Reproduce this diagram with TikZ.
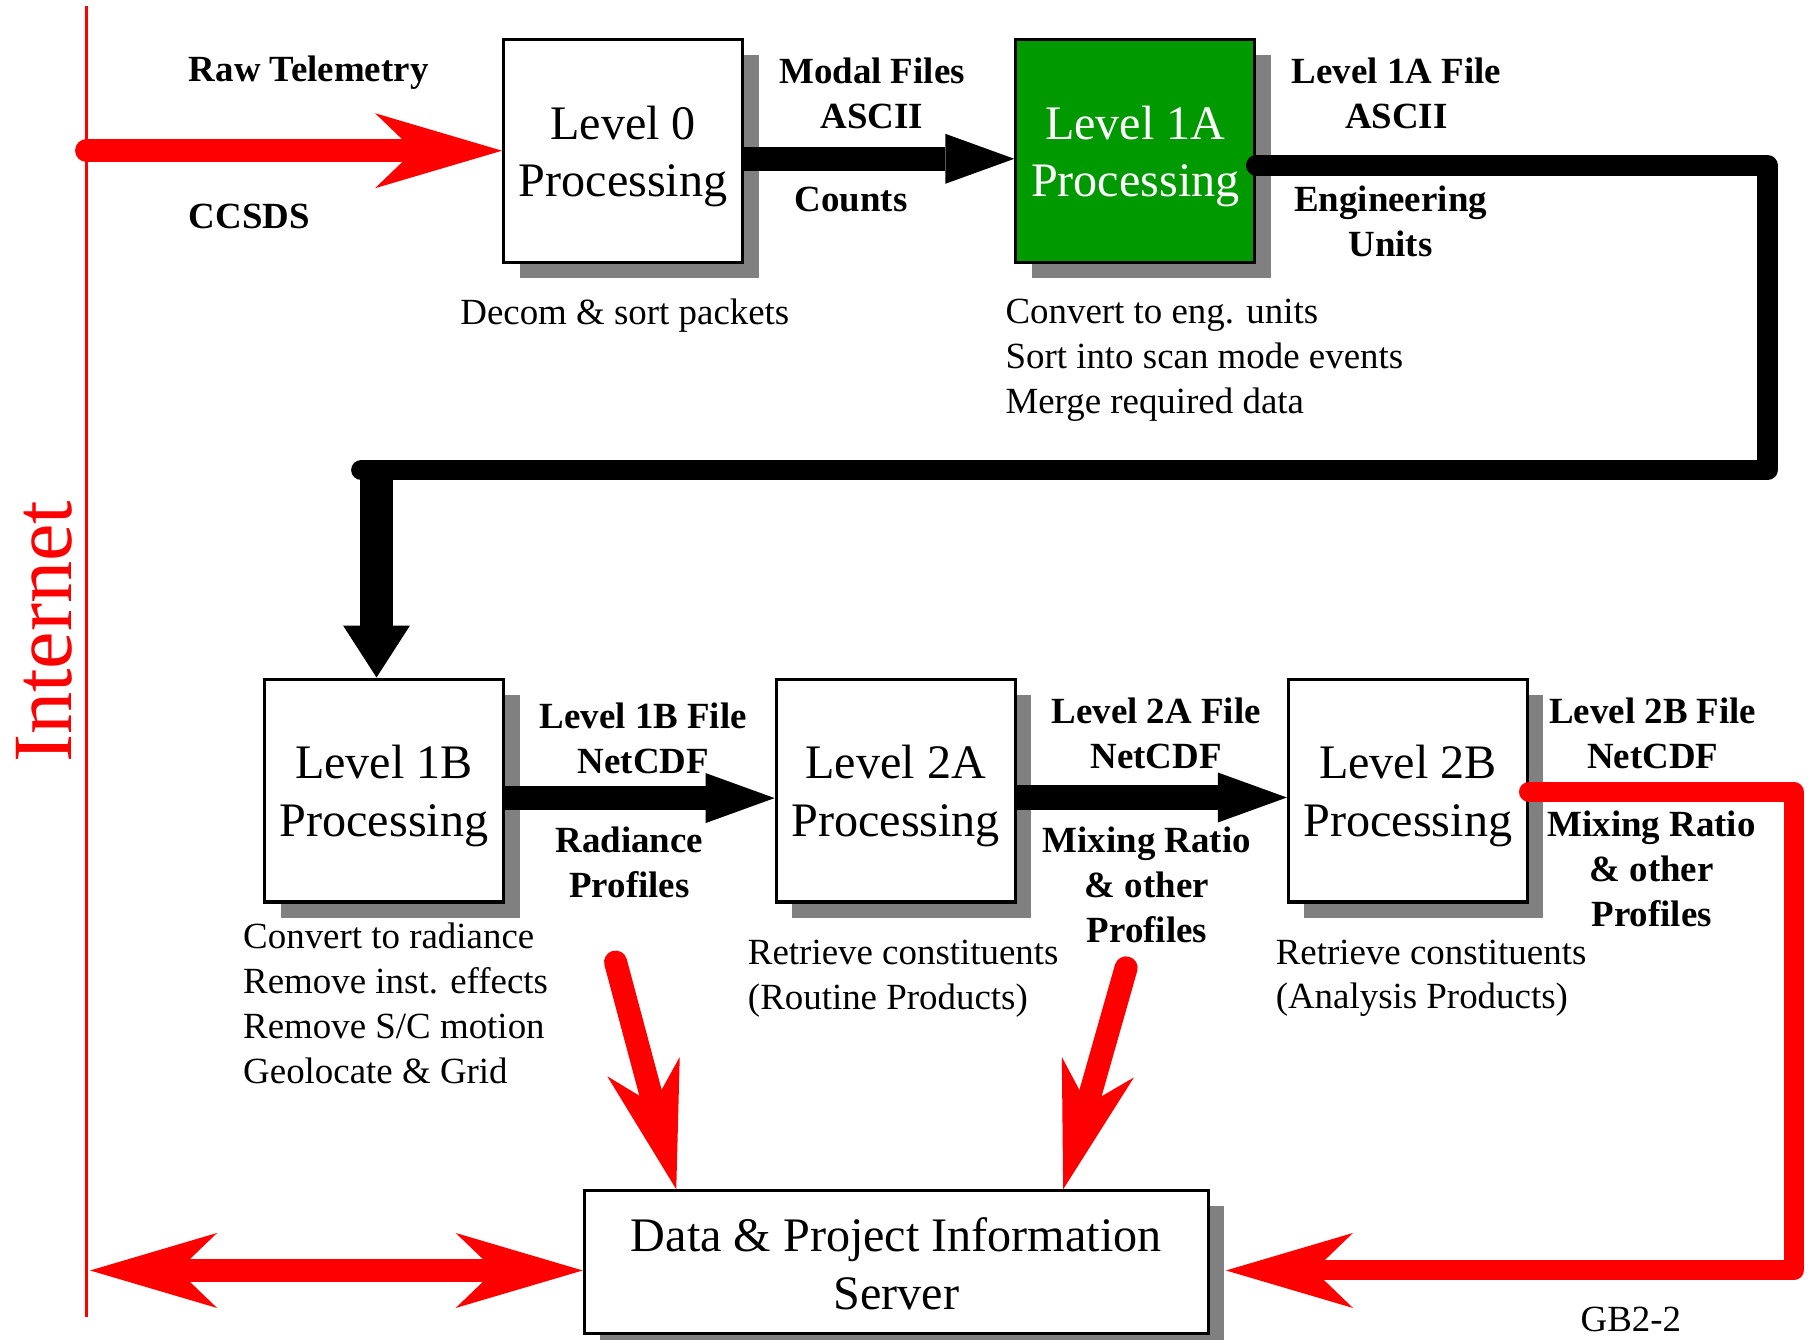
\documentclass[tikz,border=0pt]{standalone}
\usepackage{fontspec}
\setmainfont{Liberation Serif}
\usetikzlibrary{arrows.meta,shadows,calc}
\definecolor{netred}{RGB}{255,0,0}
\definecolor{procgreen}{RGB}{0,153,0}
\newcommand{\boxtop}[1]{\rule{0pt}{#1}}

\begin{document}
\begin{tikzpicture}[x=0.01155cm, y=-0.01155cm,
	procbox/.style={draw=black, line width=0.9pt, fill=white, minimum width=2.39cm, minimum height=2.23cm, align=center, inner sep=0pt,
		font=\fontsize{13.7}{16.4}\selectfont, general shadow={fill=black!50, shadow xshift=0.16cm, shadow yshift=-0.155cm}},
	flowlabel/.style={inner sep=0pt, align=center, font=\fontsize{10.5}{12.8}\selectfont\bfseries},
	note/.style={inner sep=0pt, align=left, anchor=west, font=\fontsize{10.5}{12.8}\selectfont},
	redflow/.style={draw=netred, line width=0.231cm, line cap=round, -{Stealth[length=1.27cm, width=0.75cm, inset=0.39cm, line width=0pt]}},
	blackflow/.style={draw=black, line width=0.243cm, -{Triangle[length=0.69cm, width=0.5cm, line width=0pt]}}]
			\useasboundingbox (0,0) rectangle (1568,1160);
			\coordinate (nettop) at (75,5);
			\coordinate (netbot) at (75,1140);
			\draw [netred, line width=0.8pt] (nettop) -- (netbot);
			\node [rotate=90, text=netred, inner sep=0pt, font=\fontsize{24}{28}\selectfont] (inet) at (38,547) {Internet};

			\node [procbox] (l0) at (539.5,130.5) {\boxtop{12.7pt}Level 0\\Processing};
			\node [procbox, fill=procgreen, text=white] (l1a) at (983,130.5) {\boxtop{12.7pt}Level 1A\\Processing};
			\node [procbox] (l1b) at (332.5,684.5) {\boxtop{12.7pt}Level 1B\\Processing};
			\node [procbox] (l2a) at (775.5,684.5) {\boxtop{12.7pt}Level 2A\\Processing};
			\node [procbox] (l2b) at (1219,684.5) {\boxtop{12.7pt}Level 2B\\Processing};
			\node [procbox, minimum width=6.24cm, minimum height=1.43cm] (srv) at (776,1093) {\boxtop{10.6pt}Data \& Project Information\\Server};

			\node [flowlabel, anchor=west] (raw) at (163,63) {Raw Telemetry};
			\node [flowlabel, anchor=west] (ccsds) at (163,187) {CCSDS};
			\node [flowlabel] (modal) at (755,81) {Modal Files\\ASCII};
			\node [flowlabel] (counts) at (737,173) {Counts};
			\node [flowlabel] (l1afile) at (1209,81) {Level 1A File\\ASCII};
			\node [flowlabel] (eng) at (1204,192) {Engineering\\Units};
			\node [note, anchor=center] (decom) at (541,273) {Decom \& sort packets};
			\node [note] (conv1a) at (870,312) {Convert to eng. units\\Sort into scan mode events\\Merge required data};
			\node [flowlabel] (l1bfile) at (557,639) {Level 1B File\\NetCDF};
			\node [flowlabel] (rad) at (545,747) {Radiance\\Profiles};
			\node [flowlabel] (l2afile) at (1001,635) {Level 2A File\\NetCDF};
			\node [flowlabel] (mix2a) at (993,766) {Mixing Ratio\\\& other\\Profiles};
			\node [flowlabel] (l2bfile) at (1431,635) {Level 2B File\\NetCDF};
			\node [flowlabel] (mix2b) at (1430,752) {Mixing Ratio\\\& other\\Profiles};
			\node [note] (conv1b) at (210,869) {Convert to radiance\\Remove inst. effects\\Remove S/C motion\\Geolocate \& Grid};
			\node [note] (ret2a) at (647,847) {Retrieve constituents\\(Routine Products)};
			\node [note] (ret2b) at (1104,847) {Retrieve constituents\\(Analysis Products)};
			\node [note, anchor=center] (gb) at (1412,1142) {GB2-2};

			% level 0 to 1A and the loop down to 1B
			\coordinate (rawin) at (75,130.5);
			\draw [redflow] (rawin) -- (l0.west);
			\draw [blackflow] ($(l0.east)+(0,7)$) -- ($(l1a.west)+(0,7)$);
			\coordinate (loopa) at (1530,143);
			\coordinate (loopb) at (1530,407);
			\coordinate (loopc) at (313,407);
			\coordinate (dropin) at (326,407);
			\draw [black, line width=0.208cm, line cap=round, line join=round] ($(l1a.east)+(0,12.5)$) -- (loopa) -- (loopb) -- (loopc);
			\draw [black, line width=0.335cm, -{Triangle[length=0.52cm, width=0.67cm, line width=0pt]}] (dropin) -- ($(l1b.north)+(-6.5,0)$);
			\draw [blackflow] ($(l1b.east)+(0,6.5)$) -- ($(l2a.west)+(0,6.5)$);
			\draw [blackflow] ($(l2a.east)+(0,6)$) -- ($(l2b.west)+(0,6)$);

			% products to the server
			\coordinate (pull1b) at (533,833);
			\coordinate (pull2a) at (975,838);
			\draw [redflow] (pull1b) -- ($(srv.north west)+(81,0)$);
			\draw [redflow] (pull2a) -- ($(srv.north west)+(416,0)$);
			\coordinate (outa) at (1553,685.5);
			\coordinate (outb) at (1553,1100);
			\draw [redflow, line width=0.2cm, line join=round] ($(l2b.east)+(0,1)$) -- (outa) -- (outb) -- ($(srv.east)+(14,7)$);
			\coordinate (netsrv) at (78,1100);
			\draw [draw=netred, line width=0.231cm, {Stealth[length=1.27cm, width=0.75cm, inset=0.39cm, line width=0pt]}-{Stealth[length=1.27cm, width=0.75cm, inset=0.39cm, line width=0pt]}] (netsrv) -- ($(srv.west)+(0,7)$);
\end{tikzpicture}
\end{document}
